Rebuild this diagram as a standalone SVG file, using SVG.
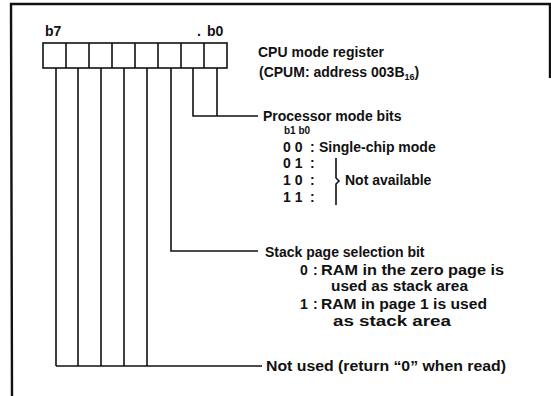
<svg xmlns="http://www.w3.org/2000/svg" width="551" height="396" viewBox="0 0 551 396">
<style>
text{font-family:"Liberation Sans",Arial,sans-serif;font-weight:bold;font-size:14px;fill:#111}
.sm{font-size:10px}
.sub{font-size:9px}
.ln{stroke:#111;stroke-width:1.6;fill:none}
.bd{stroke:#111;stroke-width:2.4;fill:none}
</style>
<rect width="551" height="396" fill="#fff"/>
<path class="bd" d="M12,396 L11,4 L550,4 L550,78"/>
<g id="register">
<text x="45" y="36">b7</text>
<text x="197" y="36">.</text>
<text x="207" y="36">b0</text>
<rect class="ln" x="43" y="43" width="184" height="25"/>
<path class="ln" d="M66,43V68M89,43V68M112,43V68M135,43V68M158,43V68M181,43V68M204,43V68"/>
<text x="258" y="57">CPU mode register</text>
<text x="259" y="77">(CPUM: address 003B<tspan class="sub" dy="3">16</tspan><tspan dy="-3">)</tspan></text>
</g>
<g id="connectors">
<path class="ln" d="M56,68V366M78,68V366M101,68V366M124,68V366M147,68V366M56,366H262"/>
<path class="ln" d="M171,68V251H258"/>
<path class="ln" d="M193,68V116H258M217,68V116"/>
</g>
<g id="processor-mode-bits">
<text x="263" y="121">Processor mode bits</text>
<text class="sm" x="284" y="134">b1 b0</text>
<text x="283" y="152">0 0</text><text x="310" y="152">:</text>
<text x="319" y="152">Single-chip mode</text>
<text x="283" y="168">0 1</text><text x="310" y="168">:</text>
<text x="283" y="185">1 0</text><text x="310" y="185">:</text>
<text x="283" y="202">1 1</text><text x="310" y="202">:</text>
<path class="ln" d="M336,158V178L339,181L336,184V205"/>
<text x="345" y="185">Not available</text>
</g>
<g id="stack-page-bit">
<text x="265" y="257">Stack page selection bit</text>
<text x="300" y="275">0</text><text x="313" y="275">:</text>
<text x="321" y="275" textLength="183" lengthAdjust="spacingAndGlyphs">RAM in the zero page is</text>
<text x="331" y="291" textLength="137" lengthAdjust="spacingAndGlyphs">used as stack area</text>
<text x="300" y="309">1</text><text x="313" y="309">:</text>
<text x="321" y="309" textLength="166" lengthAdjust="spacingAndGlyphs">RAM in page 1 is used</text>
<text x="333" y="326" textLength="118" lengthAdjust="spacingAndGlyphs">as stack area</text>
</g>
<g id="not-used">
<text x="266" y="371" textLength="240" lengthAdjust="spacingAndGlyphs">Not used (return “0” when read)</text>
</g>
</svg>
